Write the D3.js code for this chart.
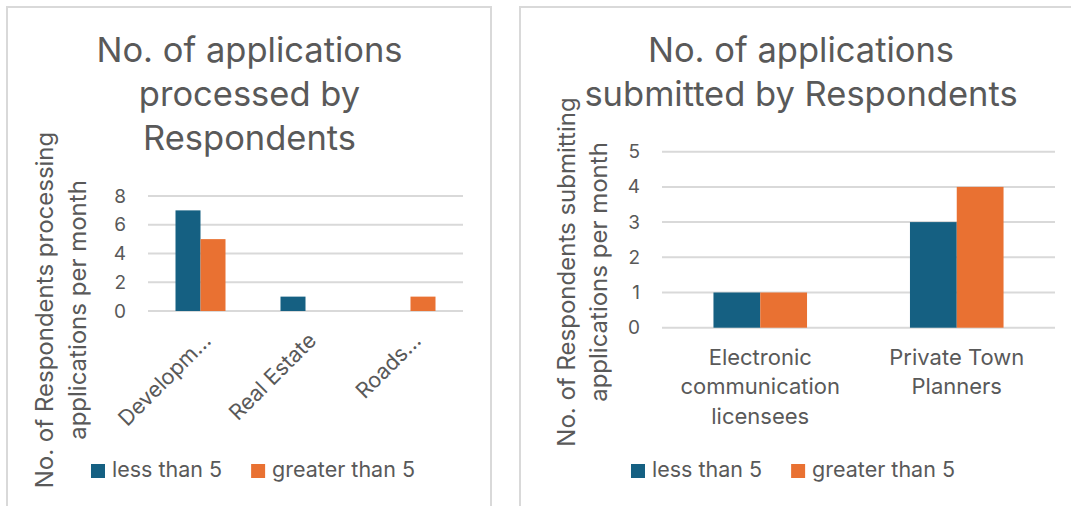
<!DOCTYPE html>
<html>
<head>
<meta charset="utf-8">
<script src="https://cdnjs.cloudflare.com/ajax/libs/d3/7.8.5/d3.min.js"></script>
<style>
  html, body { margin: 0; padding: 0; background: #ffffff; }
  svg { display: block; }
  text { font-family: "Inter", "Open Sans", "Liberation Sans", sans-serif; fill: #595959; }
</style>
</head>
<body>
<svg id="chart" width="1071" height="506"></svg>
<script>
// ---- Data ----
const seriesNames = ["less than 5", "greater than 5"];
const seriesColors = ["#156082", "#E97132"];

// Chart 1: applications processed
const processedTitle = ["No. of applications", "processed by", "Respondents"];
const processedAxisTitle = ["No. of Respondents processing", "applications per month"];
const processedCategories = ["Developm\u2026", "Real Estate", "Roads\u2026"];
const processedLessThan5 = [7, 1, 0];
const processedGreaterThan5 = [5, 0, 1];
const processedTicks = [0, 2, 4, 6, 8];

// Chart 2: applications submitted
const submittedTitle = ["No. of applications", "submitted by Respondents"];
const submittedAxisTitle = ["No. of Respondents submitting", "applications per month"];
const submittedCategories = [["Electronic", "communication", "licensees"], ["Private Town", "Planners"]];
const submittedLessThan5 = [1, 3];
const submittedGreaterThan5 = [1, 4];
const submittedTicks = [0, 1, 2, 3, 4, 5];

const svg = d3.select("#chart");

// Panel frames
svg.append("rect").attr("x", 7).attr("y", 7).attr("width", 484).attr("height", 520)
  .attr("fill", "none").attr("stroke", "#d9d9d9").attr("stroke-width", 2);
svg.append("rect").attr("x", 520).attr("y", 7).attr("width", 580).attr("height", 520)
  .attr("fill", "none").attr("stroke", "#d9d9d9").attr("stroke-width", 2);

function drawChart(cfg) {
  const g = svg.append("g");
  const n = cfg.categories.length;

  const x = d3.scaleBand().domain(d3.range(n)).range([cfg.left, cfg.right]).padding(0);
  const y = d3.scaleLinear().domain([0, cfg.max]).range([cfg.bottom, cfg.top]);
  // Bar width: band / (2 bars + 220% gap)
  const barW = x.bandwidth() / 4.2;
  const inner = d3.scaleBand().domain(d3.range(seriesNames.length)).range([-barW, barW]).padding(0);

  // Gridlines
  g.append("g").selectAll("line").data(cfg.ticks).join("line")
    .attr("x1", cfg.left).attr("x2", cfg.right)
    .attr("y1", d => y(d)).attr("y2", d => y(d))
    .attr("stroke", "#d9d9d9").attr("stroke-width", 2);

  // Y axis tick labels
  const yAxis = d3.axisLeft(y).tickValues(cfg.ticks).tickSize(0).tickPadding(0).tickFormat(d3.format("d"));
  const ya = g.append("g").attr("transform", `translate(${cfg.left - 22},0)`).call(yAxis);
  ya.select(".domain").remove();
  ya.selectAll("text").attr("font-size", cfg.tickSize).attr("fill", "#595959")
    .style("font-family", "Inter, 'Open Sans', sans-serif");

  // Bars
  const series = [cfg.less, cfg.greater];
  series.forEach((vals, si) => {
    g.append("g").selectAll("rect").data(vals).join("rect")
      .attr("x", (d, i) => x(i) + x.bandwidth() / 2 + inner(si))
      .attr("width", inner.bandwidth())
      .attr("y", d => y(d))
      .attr("height", d => y(0) - y(d))
      .attr("fill", seriesColors[si]);
  });

  // Title
  const t = g.append("text").attr("text-anchor", "middle").attr("font-size", cfg.titleSize);
  cfg.title.forEach((line, i) => {
    t.append("tspan").attr("x", cfg.titleX).attr("y", cfg.titleY + i * 44).text(line);
  });

  // Y axis title (rotated)
  cfg.axisTitle.forEach((line, i) => {
    g.append("text")
      .attr("transform", `translate(${cfg.axisTitleX[i]},${cfg.axisTitleY}) rotate(-90)`)
      .attr("text-anchor", "middle").attr("font-size", cfg.axisTitleSize)
      .text(line);
  });

  // Category labels
  if (cfg.rotateLabels) {
    g.append("g").selectAll("text").data(cfg.categories).join("text")
      .attr("transform", (d, i) => `translate(${x(i) + x.bandwidth() / 2 + 12},${cfg.bottom + 31}) rotate(-45)`)
      .attr("text-anchor", "end").attr("font-size", cfg.catSize)
      .text(d => d);
  } else {
    cfg.categories.forEach((lines, i) => {
      const tx = g.append("text").attr("text-anchor", "middle").attr("font-size", cfg.catSize);
      lines.forEach((line, j) => {
        tx.append("tspan").attr("x", x(i) + x.bandwidth() / 2).attr("y", cfg.bottom + 37 + j * 29.5).text(line);
      });
    });
  }

  // Legend
  const leg = g.append("g");
  const items = seriesNames.map((name, si) => {
    const it = leg.append("g");
    it.append("rect").attr("width", 14).attr("height", 14).attr("y", -13).attr("fill", seriesColors[si]);
    const tx = it.append("text").attr("x", 21).attr("font-size", cfg.legendSize).text(name);
    return { it, w: 21 + tx.node().getComputedTextLength() };
  });
  const gap = 29;
  const total = d3.sum(items, d => d.w) + gap * (items.length - 1);
  let cx = cfg.legendX - total / 2;
  items.forEach(d => {
    d.it.attr("transform", `translate(${cx},${cfg.legendY})`);
    cx += d.w + gap;
  });
}

drawChart({
  categories: processedCategories, less: processedLessThan5, greater: processedGreaterThan5,
  ticks: processedTicks, max: 8,
  left: 148, right: 463, top: 196, bottom: 311,
  title: processedTitle, titleX: 249.5, titleY: 62, titleSize: 34.5,
  axisTitle: processedAxisTitle, axisTitleX: [53, 86], axisTitleY: 310, axisTitleSize: 24,
  rotateLabels: true, catSize: 21.5, tickSize: 19,
  legendX: 253, legendY: 477, legendSize: 21.5
});

drawChart({
  categories: submittedCategories, less: submittedLessThan5, greater: submittedGreaterThan5,
  ticks: submittedTicks, max: 5,
  left: 662, right: 1055, top: 151.7, bottom: 327.7,
  title: submittedTitle, titleX: 801, titleY: 62, titleSize: 34.5,
  axisTitle: submittedAxisTitle, axisTitleX: [575, 607], axisTitleY: 272, axisTitleSize: 24,
  rotateLabels: false, catSize: 22, tickSize: 19,
  legendX: 793, legendY: 477, legendSize: 21.5
});
</script>
</body>
</html>
